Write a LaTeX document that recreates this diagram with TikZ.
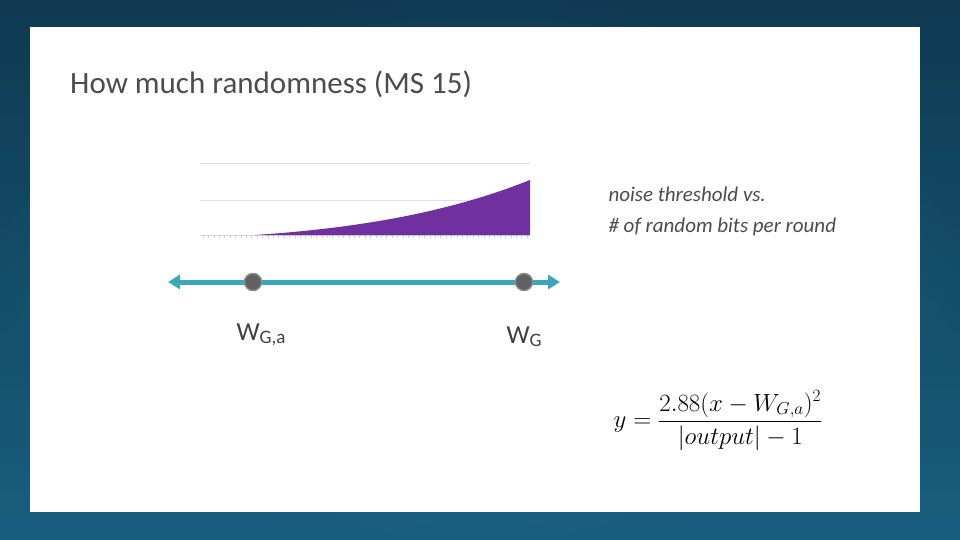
\documentclass[tikz,border=0pt]{standalone}
\usepackage{fontspec}
\setmainfont{Carlito}
\usepackage{amsmath}
\usetikzlibrary{arrows.meta}
\begin{document}
\begin{tikzpicture}[x=1pt,y=-1pt,
  grid/.style={draw=black!12,line width=0.8pt},
  dot/.style={circle,fill=black!62,draw=black!45,line width=1.2pt,minimum size=17pt,inner sep=0pt},
  lab/.style={anchor=base west,text=black!75,font=\fontsize{26}{30}\selectfont}]
\definecolor{bgtop}{HTML}{0F3A52}
\definecolor{bgbot}{HTML}{2483AC}
\definecolor{teal}{HTML}{3BA8B9}
\definecolor{purp}{HTML}{7030A0}
\useasboundingbox (0,0) rectangle (960,540);
\shade[top color=bgtop,bottom color=bgbot] (0,0) rectangle (960,540);
\shade[inner color=bgbot,outer color=bgtop,opacity=0.5] (0,0) rectangle (960,540);
\fill[white] (30,27) rectangle (920,512);
\node[anchor=base west,text=black!70,font=\fontsize{31}{36}\selectfont,inner sep=0] (title) at (70,94) {How much randomness (MS 15)};
% chart
\draw[grid] (200,163) -- (530,163);
\draw[grid] (200,200) -- (530,200);
\draw[black!15,line width=0.6pt] (200,235) -- (530,235);
\foreach \i in {0,...,60}{\draw[black!18,line width=0.4pt] (203+\i*5.4,235) -- (203+\i*5.4,238);}
\fill[purp] (255,235) .. controls (360,228) and (450,212) .. (530,180) -- (530,235) -- cycle;
% number line
\node[dot] (a) at (253,282) {};
\node[dot] (b) at (524,282) {};
\coordinate (l) at (168,282);
\coordinate (r) at (560,282);
\draw[teal,line width=5pt,{Triangle[width=14pt,length=12pt]}-{Triangle[width=14pt,length=12pt]}] (l) -- (r);
\node[dot] at (a) {};
\node[dot] at (b) {};
\node[lab] (la) at (233,340) {W\textsubscript{\fontsize{19}{20}\selectfont G,a}};
\node[lab] (lb) at (503,343) {W\textsubscript{\fontsize{19}{20}\selectfont G}};
\node[anchor=north west,align=left,text=black!70,font=\itshape\fontsize{21}{31}\selectfont] (cap) at (605,183) {noise threshold vs.\\\# of random bits per round};
\node[font=\fontsize{24}{28}\selectfont] (eq) at (718,421) {$y=\dfrac{2.88(x-W_{G,a})^2}{|output|-1}$};
\end{tikzpicture}
\end{document}
